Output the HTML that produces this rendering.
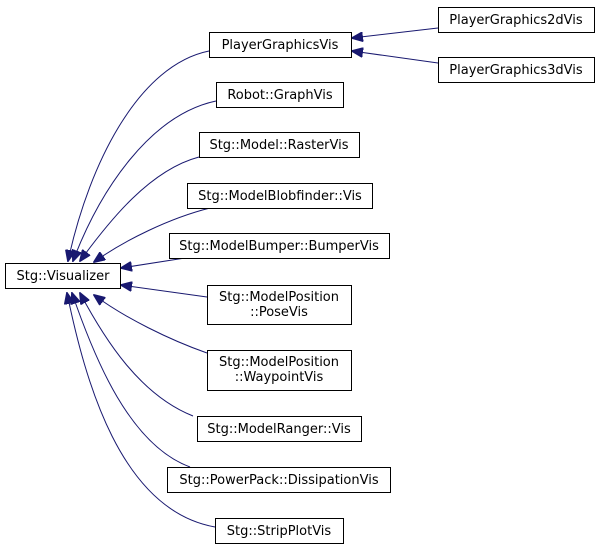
<!DOCTYPE html>
<html><head><meta charset="utf-8"><style>
body{margin:0;background:#fff;}
svg text{font-family:"DejaVu Sans","Liberation Sans",sans-serif;font-size:13px;fill:#000;}
</style></head><body>
<svg width="600" height="549" viewBox="0 0 600 549">
<defs><marker id="a" markerWidth="12" markerHeight="10" refX="11" refY="5" orient="auto" markerUnits="userSpaceOnUse">
<path d="M0,0 L12,5 L0,10 Z" fill="#191970" stroke="#191970"/></marker></defs>
<g fill="none" stroke="#191970" stroke-width="1">
<path d="M209,51 C140,65 90,160 68,261" marker-end="url(#a)"/>
<path d="M216,101 C150,115 100,190 73,261" marker-end="url(#a)"/>
<path d="M199,157 C150,170 110,220 80,261" marker-end="url(#a)"/>
<path d="M210,208 C170,218 125,240 94,262" marker-end="url(#a)"/>
<path d="M185,258 L121,268" marker-end="url(#a)"/>
<path d="M207,297 L121,285" marker-end="url(#a)"/>
<path d="M207,353 C170,340 125,318 94,295" marker-end="url(#a)"/>
<path d="M193,416 C140,395 105,340 80,293" marker-end="url(#a)"/>
<path d="M190,467 C130,445 95,360 72,293" marker-end="url(#a)"/>
<path d="M215,527 C120,510 85,380 67,293" marker-end="url(#a)"/>
<path d="M438,28 L352,38" marker-end="url(#a)"/>
<path d="M438,63 L352,51" marker-end="url(#a)"/>
</g>
<g fill="#fff" stroke="#000" stroke-width="1">
<rect x="5.5" y="263.5" width="115" height="25"/>
<rect x="209.5" y="32.5" width="142" height="25"/>
<rect x="216.5" y="82.5" width="127" height="25"/>
<rect x="199.5" y="132.5" width="160" height="25"/>
<rect x="187.5" y="183.5" width="185" height="25"/>
<rect x="169.5" y="233.5" width="220" height="25"/>
<rect x="207.5" y="285.5" width="144" height="39"/>
<rect x="207.5" y="350.5" width="144" height="40"/>
<rect x="197.5" y="416.5" width="164" height="25"/>
<rect x="167.5" y="467.5" width="223" height="25"/>
<rect x="215.5" y="518.5" width="128" height="25"/>
<rect x="438.5" y="7.5" width="156" height="25"/>
<rect x="438.5" y="57.5" width="156" height="25"/>
</g>
<g text-anchor="middle">
<text x="63" y="280">Stg::Visualizer</text>
<text x="280" y="49">PlayerGraphicsVis</text>
<text x="280" y="99">Robot::GraphVis</text>
<text x="279" y="149">Stg::Model::RasterVis</text>
<text x="280" y="200">Stg::ModelBlobfinder::Vis</text>
<text x="279" y="250">Stg::ModelBumper::BumperVis</text>
<text x="279" y="301">Stg::ModelPosition</text>
<text x="279" y="316">::PoseVis</text>
<text x="279" y="366">Stg::ModelPosition</text>
<text x="279" y="381">::WaypointVis</text>
<text x="279" y="433">Stg::ModelRanger::Vis</text>
<text x="279" y="484">Stg::PowerPack::DissipationVis</text>
<text x="279" y="535">Stg::StripPlotVis</text>
<text x="516" y="24">PlayerGraphics2dVis</text>
<text x="516" y="74">PlayerGraphics3dVis</text>
</g>
</svg>
</body></html>
